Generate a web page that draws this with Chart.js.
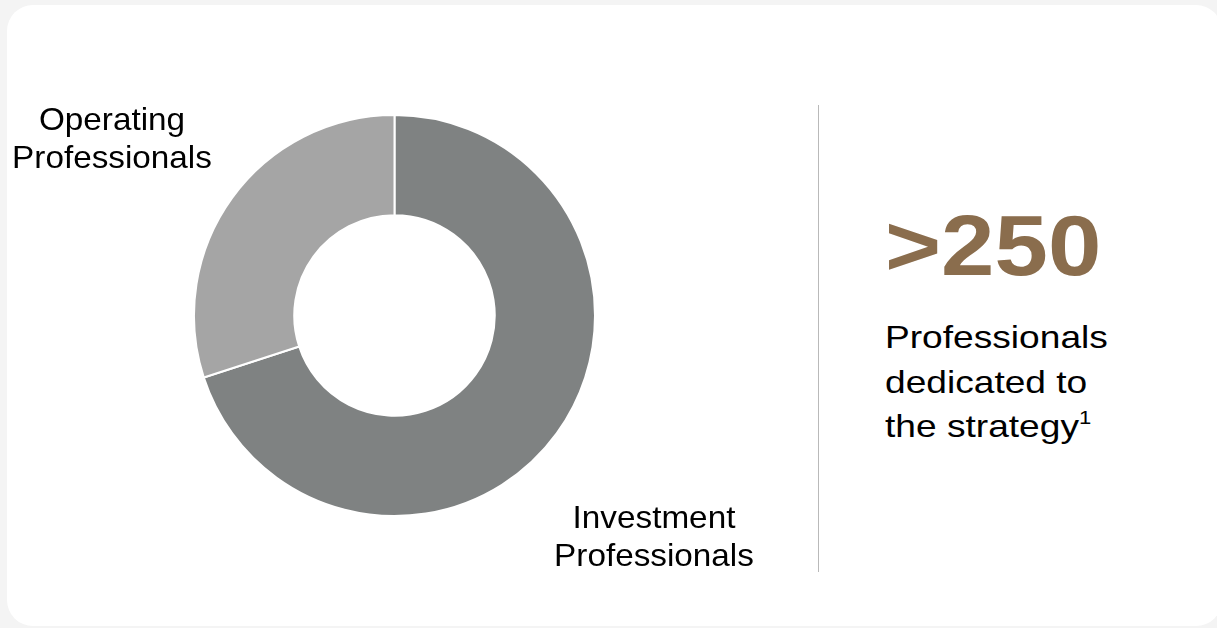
<!DOCTYPE html>
<html>
<head>
<meta charset="utf-8">
<script src="https://cdn.jsdelivr.net/npm/chart.js@4.4.0/dist/chart.umd.min.js"></script>
<style>
  html, body { margin: 0; padding: 0; }
  body { width: 1217px; height: 628px; background: #f4f4f4; position: relative; overflow: hidden;
         font-family: "Liberation Sans", Arial, sans-serif; }
  #card { position: absolute; left: 7px; top: 5px; width: 1215px; height: 621px; background: #fff; border-radius: 26px; }
  #wrap { position: absolute; left: 193px; top: 114px; width: 403px; height: 403px; }
  .lbl { position: absolute; font-size: 32px; line-height: 38px; color: #000; text-align: center;
         transform: scaleX(1.04); }
  #divider { position: absolute; left: 818px; top: 105px; width: 1px; height: 467px; background: #b9b9b9; }
  #big { position: absolute; left: 885px; top: 196px; font-size: 85px; font-weight: bold; color: #8a6d4d;
         line-height: 100px; transform: scaleX(1.13); transform-origin: left top; }
  #sub { position: absolute; left: 885px; top: 315px; font-size: 32px; line-height: 44.5px; color: #000;
         transform: scaleX(1.16); transform-origin: left top; white-space: nowrap; }
  sup { font-size: 19px; vertical-align: 13px; line-height: 0; }
</style>
</head>
<body>
<div id="card"></div>
<div id="wrap"><canvas id="donut"></canvas></div>
<div class="lbl" id="lblOp" style="left:0px; top:100px; width:224px;"></div>
<div class="lbl" id="lblInv" style="left:542px; top:498px; width:224px;"></div>
<div id="divider"></div>
<div id="big"></div>
<div id="sub">Professionals<br>dedicated to<br>the strategy<sup>1</sup></div>

<script>
var labels = ["Investment Professionals", "Operating Professionals"];
var shares = [70, 30];
var colors = ["#7f8282", "#a5a5a5"];
var headline = ">250";

document.getElementById("big").textContent = headline;
document.getElementById("lblInv").innerHTML = "Investment<br>Professionals";
document.getElementById("lblOp").innerHTML = "Operating<br>Professionals";

var ctx = document.getElementById("donut").getContext('2d');

var donut = new Chart(ctx, {
  type: 'doughnut',
  data: {
    labels: labels,
    datasets: [{
      data: shares,
      backgroundColor: colors,
      borderColor: "#ffffff",
      borderWidth: 2
    }]
  },
  options: {
    responsive: true,
    maintainAspectRatio: false,
    animation: false,
    cutout: '50%',
    layout: { padding: 0 },
    plugins: {
      legend: { display: false },
      tooltip: { enabled: false }
    }
  }
});
</script>
</body>
</html>
